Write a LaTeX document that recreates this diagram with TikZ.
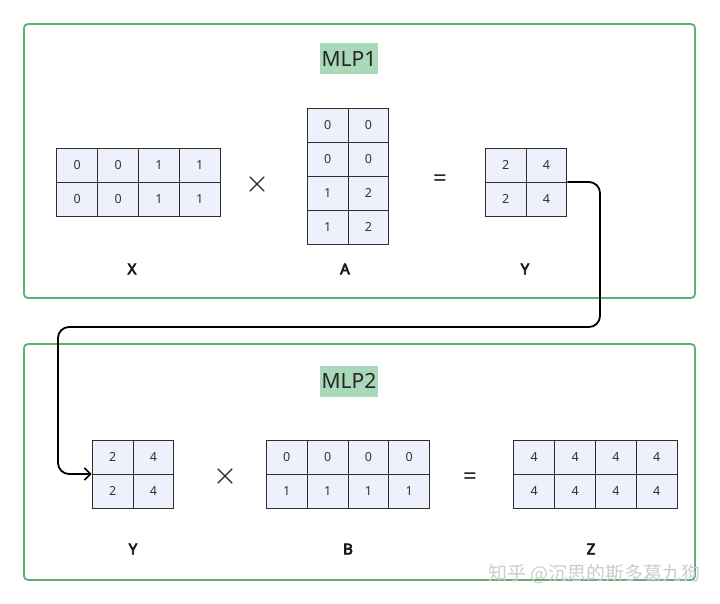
\documentclass[tikz,border=0pt]{standalone}
\usepackage{fontspec}
\setmainfont{Noto Sans}
\newfontfamily\labelfont{Noto Sans}[FakeBold=4.5]
\newfontfamily\cjkfont{Noto Sans CJK SC}
\usetikzlibrary{matrix,arrows.meta}
\definecolor{framegreen}{HTML}{5FAE78}
\definecolor{labelgreen}{HTML}{A9D9B8}
\definecolor{cellfill}{HTML}{EEF1FB}
\definecolor{celldraw}{HTML}{2E2E2E}
\tikzset{
  x=1pt,y=-1pt,
  panel/.style={draw=framegreen,line width=1.8pt,rounded corners=4pt},
  titlebox/.style={fill=labelgreen,inner sep=0pt,minimum width=58pt,minimum height=31pt,font=\fontsize{21}{24}\selectfont,text=black!85},
  cell/.style={draw=celldraw,line width=0.9pt,fill=cellfill,minimum width=40.8pt,minimum height=34pt,inner sep=0pt,text height=9.5pt,text depth=0pt,anchor=center,font=\fontsize{12.5}{14}\selectfont,text=black!80},
  mat/.style={matrix of nodes,nodes={cell},column sep=-0.9pt,row sep=-0.9pt,inner sep=0pt},
  mlabel/.style={font=\labelfont\fontsize{15}{18}\selectfont,text=black!90},
  op/.style={font=\fontsize{24}{26}\selectfont,text=black!85},
  link/.style={draw=black,line width=1.8pt,rounded corners=11pt,-{Straight Barb[length=6pt,width=12pt,line width=1.6pt]}},
}
\begin{document}
\begin{tikzpicture}
\useasboundingbox[fill=white] (0,0) rectangle (720,604);
% panels
\draw[panel] (24,24) rectangle (695,298);
\draw[panel] (24,344) rectangle (695,580);
\node[titlebox] (t1) at (349,59) {MLP1};
\node[titlebox] (t2) at (349,381) {MLP2};
% MLP1
\matrix[mat] (X) at (138.5,182) {0 & 0 & 1 & 1\\ 0 & 0 & 1 & 1\\};
\node[inner sep=0pt,minimum size=14pt] (m1) at (257,184) {};
\draw[line width=1.2pt,black!85] (m1.north west) -- (m1.south east) (m1.north east) -- (m1.south west);
\matrix[mat] (A) at (348,176) {0 & 0\\ 0 & 0\\ 1 & 2\\ 1 & 2\\};
\node[op] (e1) at (440,181) {=};
\matrix[mat] (Y1) at (526,182) {2 & 4\\ 2 & 4\\};
\node[mlabel] (lx) at (132,269) {X};
\node[mlabel] (la) at (345,269) {A};
\node[mlabel] (ly1) at (525,269) {Y};
% MLP2
\matrix[mat] (Y2) at (133,474) {2 & 4\\ 2 & 4\\};
\node[inner sep=0pt,minimum size=14pt] (m2) at (225,476) {};
\draw[line width=1.2pt,black!85] (m2.north west) -- (m2.south east) (m2.north east) -- (m2.south west);
\matrix[mat] (B) at (348,474) {0 & 0 & 0 & 0\\ 1 & 1 & 1 & 1\\};
\node[op] (e2) at (470,479) {=};
\matrix[mat] (Z) at (595.5,474) {4 & 4 & 4 & 4\\ 4 & 4 & 4 & 4\\};
\node[mlabel] (ly2) at (133,549) {Y};
\node[mlabel] (lb) at (348,549) {B};
\node[mlabel] (lz) at (591,549) {Z};
% connector
\coordinate (c1) at (600,182);
\coordinate (c2) at (600,327);
\coordinate (c3) at (58,327);
\coordinate (c4) at (58,474);
\draw[link] (Y1.east) -- (c1) -- (c2) -- (c3) -- (c4) -- (Y2.west);
% watermark
\node[font=\cjkfont\fontsize{19}{22}\selectfont,text=black!20,anchor=east] (wm) at (704,574) {知乎 @沉思的斯多葛九狗};
\end{tikzpicture}
\end{document}
